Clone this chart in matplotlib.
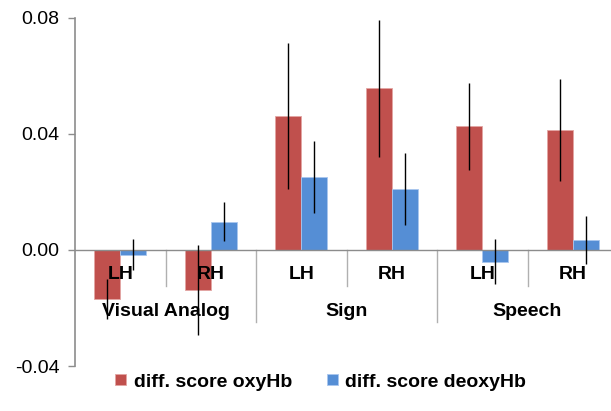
import matplotlib.pyplot as plt
import numpy as np

# datos
grupos = ['Visual Analog', 'Sign', 'Speech']
hemisferios = ['LH', 'RH', 'LH', 'RH', 'LH', 'RH']
oxy = [-0.0169, -0.0138, 0.0462, 0.0558, 0.0427, 0.0413]
oxy_err = [0.0070, 0.0155, 0.0252, 0.0236, 0.0150, 0.0175]
deoxy = [-0.0016, 0.0098, 0.0252, 0.0211, -0.0040, 0.0034]
deoxy_err = [0.0053, 0.0067, 0.0124, 0.0125, 0.0078, 0.0082]
yticks = [-0.04, 0.00, 0.04, 0.08]

plt.rcParams['font.family'] = ['Liberation Sans', 'DejaVu Sans']

rojo = '#C0504D'
azul = '#558ED5'
gris = '#8c8c8c'

fig = plt.figure(figsize=(6.11, 4.11), dpi=100)
ax = fig.add_axes([75 / 611, 45 / 411, 536 / 611, 348 / 411])

x = np.arange(len(hemisferios))
ancho = 0.287
ax.bar(x - ancho / 2, oxy, ancho, color=rojo, edgecolor='#e3a5a3', linewidth=0.6,
       label='diff. score oxyHb', zorder=2)
ax.bar(x + ancho / 2, deoxy, ancho, color=azul, edgecolor='#a9c6ee', linewidth=0.6,
       label='diff. score deoxyHb', zorder=2)
ax.errorbar(x - ancho / 2, oxy, yerr=oxy_err, fmt='none', ecolor='black',
            elinewidth=1, capsize=0, zorder=5)
ax.errorbar(x + ancho / 2, deoxy, yerr=deoxy_err, fmt='none', ecolor='black',
            elinewidth=1, capsize=0, zorder=5)

ax.set_xlim(-0.5, -0.5 + 536 / 90.5)
ax.set_ylim(-0.04, 0.08)
ax.set_yticks(yticks)
ax.set_yticklabels([f'{v:.2f}' for v in yticks], fontsize=14)
ax.set_xticks([])
for s in ['top', 'right', 'bottom']:
    ax.spines[s].set_visible(False)
ax.spines['left'].set_color(gris)
ax.spines['left'].set_linewidth(1.2)
ax.tick_params(axis='y', color=gris, length=5, width=1, pad=6)
ax.axhline(0, color=gris, linewidth=1, zorder=3)

# etiquetas del eje x en dos niveles
trans = ax.get_xaxis_transform()
for i, h in enumerate(hemisferios):
    ax.text(i, 0.2615, h, transform=trans, ha='center', va='center',
            fontsize=14, fontweight='bold', zorder=4)
for g, nombre in enumerate(grupos):
    ax.text(2 * g + 0.5, 0.158, nombre, transform=trans, ha='center', va='center',
            fontsize=14, fontweight='bold', zorder=4)
for i in range(1, len(hemisferios)):
    fondo = 0.126 if i % 2 == 0 else 0.230
    ax.plot([i - 0.5, i - 0.5], [1 / 3, fondo], transform=trans,
            color='#b0b0b0', linewidth=1, clip_on=False, zorder=1)

fig.legend(loc='center', bbox_to_anchor=(0.525, 29 / 411), ncol=2, frameon=False,
           prop={'size': 14, 'weight': 'bold'}, handlelength=0.55,
           handleheight=0.55, handletextpad=0.4, columnspacing=1.8)

fig.savefig('out.png', dpi=100)
